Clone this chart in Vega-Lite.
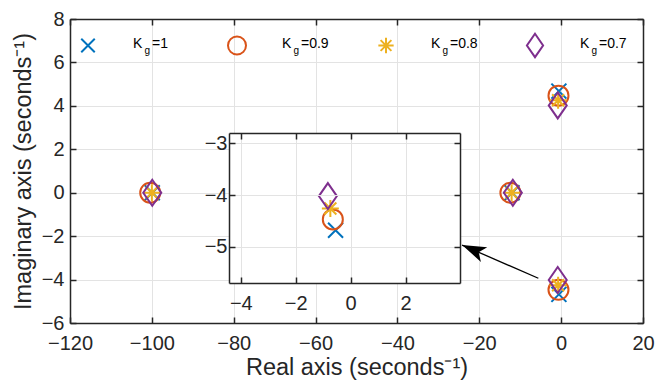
{
  "$schema": "https://vega.github.io/schema/vega-lite/v6.json",
  "width": 573,
  "height": 304,
  "autosize": {"type": "none"},
  "padding": {"left": 70, "top": 19, "right": 12, "bottom": 62},
  "background": "white",
  "config": {
    "view": {"stroke": null},
    "font": "Liberation Sans",
    "axis": {
      "labelFont": "Liberation Sans",
      "titleFont": "Liberation Sans",
      "labelFontSize": 20,
      "titleFontSize": 23.5,
      "titleFontWeight": "normal",
      "labelColor": "#262626",
      "titleColor": "#262626",
      "domainColor": "#262626",
      "domainWidth": 1.5,
      "tickColor": "#262626",
      "tickWidth": 1.5,
      "tickSize": -6,
      "gridColor": "#e3e3e3",
      "gridWidth": 1,
      "labelPadding": 12,
      "labelFlush": false,
      "labelOverlap": false
    },
    "axisX": {"labelPadding": 16}
  },
  "datasets": {
    "poles": [
      {"Kg": "1", "re": -99.9, "im": 0},
      {"Kg": "1", "re": -12.0, "im": 0},
      {"Kg": "1", "re": -0.55, "im": 4.68},
      {"Kg": "1", "re": -0.55, "im": -4.68},
      {"Kg": "0.9", "re": -100.4, "im": 0},
      {"Kg": "0.9", "re": -12.4, "im": 0},
      {"Kg": "0.9", "re": -0.65, "im": 4.47},
      {"Kg": "0.9", "re": -0.65, "im": -4.47},
      {"Kg": "0.8", "re": -100.0, "im": 0},
      {"Kg": "0.8", "re": -12.1, "im": 0},
      {"Kg": "0.8", "re": -0.74, "im": 4.26},
      {"Kg": "0.8", "re": -0.74, "im": -4.26},
      {"Kg": "0.7", "re": -99.9, "im": 0},
      {"Kg": "0.7", "re": -11.8, "im": 0},
      {"Kg": "0.7", "re": -0.83, "im": 4.02},
      {"Kg": "0.7", "re": -0.83, "im": -4.02}
    ],
    "arrow": [
      {"x0": -5.57, "y0": -3.94, "x1": -24.2, "y1": -2.41}
    ],
    "entries": [
      {"Kg": "1", "lab": "=1"},
      {"Kg": "0.9", "lab": "=0.9"},
      {"Kg": "0.8", "lab": "=0.8"},
      {"Kg": "0.7", "lab": "=0.7"}
    ]
  },
  "layer": [
    {
      "layer": [
        {
          "data": {"name": "poles"},
          "mark": {"type": "point", "filled": false, "size": 400, "strokeWidth": 2, "opacity": 1},
          "encoding": {
            "x": {
              "field": "re", "type": "quantitative",
              "scale": {"domain": [-120, 20], "nice": false, "zero": false},
              "axis": {
                "orient": "bottom", "values": [-120, -100, -80, -60, -40, -20, 0, 20],
                "grid": true, "zindex": 0,
                "title": "Real axis (seconds\u207b\u00b9)",
                "titleY": 51, "titleBaseline": "alphabetic"
              }
            },
            "y": {
              "field": "im", "type": "quantitative",
              "scale": {"domain": [-6, 8], "nice": false, "zero": false},
              "axis": {
                "orient": "left", "values": [-6, -4, -2, 0, 2, 4, 6, 8],
                "grid": true, "zindex": 0,
                "title": "Imaginary axis (seconds\u207b\u00b9)",
                "titleX": -40, "titleY": 152, "titleAngle": -90,
                "titleAlign": "center", "titleBaseline": "alphabetic"
              }
            },
            "color": {
              "field": "Kg", "type": "nominal", "legend": null,
              "scale": {"domain": ["1", "0.9", "0.8", "0.7"], "range": ["#0072BD", "#D95319", "#EDB120", "#7E2F8E"]}
            },
            "shape": {
              "field": "Kg", "type": "nominal", "legend": null,
              "scale": {
                "domain": ["1", "0.9", "0.8", "0.7"],
                "range": [
                  "M-0.75,-0.75L0.75,0.75M-0.75,0.75L0.75,-0.75",
                  "circle",
                  "M0,-0.85L0,0.85M-0.85,0L0.85,0M-0.6,-0.6L0.6,0.6M-0.6,0.6L0.6,-0.6",
                  "M0,-1.3L0.9,0L0,1.3L-0.9,0Z"
                ]
              }
            }
          }
        },
        {
          "data": {"name": "poles"},
          "mark": {"type": "point", "opacity": 0},
          "encoding": {
            "x": {
              "field": "re", "type": "quantitative",
              "scale": {"domain": [-120, 20], "nice": false, "zero": false},
              "axis": {"orient": "top", "values": [-120, -100, -80, -60, -40, -20, 0, 20], "labels": false, "grid": false, "title": null, "zindex": 0}
            },
            "y": {
              "field": "im", "type": "quantitative",
              "scale": {"domain": [-6, 8], "nice": false, "zero": false},
              "axis": {"orient": "right", "values": [-6, -4, -2, 0, 2, 4, 6, 8], "labels": false, "grid": false, "title": null, "zindex": 0}
            }
          }
        },
        {
          "data": {"name": "arrow"},
          "mark": {"type": "rule", "color": "#000000", "strokeWidth": 1.3},
          "encoding": {
            "x": {"field": "x0", "type": "quantitative", "scale": {"domain": [-120, 20], "nice": false, "zero": false}, "axis": null},
            "y": {"field": "y0", "type": "quantitative", "scale": {"domain": [-6, 8], "nice": false, "zero": false}, "axis": null},
            "x2": {"field": "x1"},
            "y2": {"field": "y1"}
          }
        },
        {
          "data": {"name": "arrow"},
          "mark": {"type": "point", "shape": "M0,0L1,-0.33L0.75,0L1,0.33Z", "filled": true, "color": "#000000", "opacity": 1, "size": 2304, "angle": 23.5, "strokeWidth": 0},
          "encoding": {
            "x": {"field": "x1", "type": "quantitative", "scale": {"domain": [-120, 20], "nice": false, "zero": false}, "axis": null},
            "y": {"field": "y1", "type": "quantitative", "scale": {"domain": [-6, 8], "nice": false, "zero": false}, "axis": null}
          }
        }
      ],
      "resolve": {"axis": {"x": "independent", "y": "independent"}}
    },
    {
      "layer": [
        {
          "data": {"values": [{"box": "inset"}]},
          "mark": {"type": "rect", "color": "white", "opacity": 1},
          "encoding": {
            "x": {"datum": -4.43, "type": "quantitative", "scale": {"domain": [-4.43, 3.98], "range": [159, 390], "nice": false, "zero": false},
              "axis": {"orient": "bottom", "offset": -40, "values": [-4, -2, 0, 2], "grid": false, "title": null, "zindex": 1}},
            "x2": {"datum": 3.98},
            "y": {"datum": -5.7, "type": "quantitative", "scale": {"domain": [-5.7, -2.8], "range": [264, 114], "nice": false, "zero": false},
              "axis": {"orient": "left", "offset": -159, "values": [-5, -4, -3], "grid": true, "title": null, "zindex": 1, "labelPadding": 8}},
            "y2": {"datum": -2.8}
          }
        },
        {
          "data": {"name": "poles"},
          "transform": [{"filter": "datum.im < -2 && datum.re > -5"}],
          "mark": {"type": "point", "filled": false, "size": 400, "strokeWidth": 2, "opacity": 1},
          "encoding": {
            "x": {"field": "re", "type": "quantitative", "scale": {"domain": [-4.43, 3.98], "range": [159, 390], "nice": false, "zero": false},
              "axis": {"orient": "top", "offset": -114, "values": [-4, -2, 0, 2], "labels": false, "grid": true, "title": null, "zindex": 1}},
            "y": {"field": "im", "type": "quantitative", "scale": {"domain": [-5.7, -2.8], "range": [264, 114], "nice": false, "zero": false},
              "axis": {"orient": "right", "offset": -183, "values": [-5, -4, -3], "labels": false, "grid": false, "title": null, "zindex": 1}},
            "color": {"field": "Kg", "type": "nominal", "scale": {"domain": ["1", "0.9", "0.8", "0.7"], "range": ["#0072BD", "#D95319", "#EDB120", "#7E2F8E"]}, "legend": null},
            "shape": {
              "field": "Kg", "type": "nominal", "legend": null,
              "scale": {
                "domain": ["1", "0.9", "0.8", "0.7"],
                "range": [
                  "M-0.75,-0.75L0.75,0.75M-0.75,0.75L0.75,-0.75",
                  "circle",
                  "M0,-0.85L0,0.85M-0.85,0L0.85,0M-0.6,-0.6L0.6,0.6M-0.6,0.6L0.6,-0.6",
                  "M0,-1.3L0.9,0L0,1.3L-0.9,0Z"
                ]
              }
            }
          }
        }
      ],
      "resolve": {"axis": {"x": "independent", "y": "independent"}}
    },
    {
      "data": {"name": "entries"},
      "encoding": {
        "x": {"field": "Kg", "type": "nominal", "sort": null, "scale": {"type": "point", "padding": 0, "domain": ["1", "0.9", "0.8", "0.7"], "range": [18, 465]}, "axis": null},
        "y": {"datum": 6.78, "type": "quantitative", "scale": {"domain": [-6, 8], "nice": false, "zero": false}, "axis": null}
      },
      "layer": [
        {
          "mark": {"type": "point", "filled": false, "size": 324, "strokeWidth": 2, "opacity": 1},
          "encoding": {
            "color": {"field": "Kg", "type": "nominal", "legend": null, "scale": {"domain": ["1", "0.9", "0.8", "0.7"], "range": ["#0072BD", "#D95319", "#EDB120", "#7E2F8E"]}},
            "shape": {
              "field": "Kg", "type": "nominal", "legend": null,
              "scale": {
                "domain": ["1", "0.9", "0.8", "0.7"],
                "range": [
                  "M-0.75,-0.75L0.75,0.75M-0.75,0.75L0.75,-0.75",
                  "circle",
                  "M0,-0.85L0,0.85M-0.85,0L0.85,0M-0.6,-0.6L0.6,0.6M-0.6,0.6L0.6,-0.6",
                  "M0,-1.3L0.9,0L0,1.3L-0.9,0Z"
                ]
              }
            }
          }
        },
        {
          "mark": {"type": "text", "text": "K", "align": "left", "baseline": "middle", "dx": 45, "dy": -1, "font": "Liberation Sans", "fontSize": 14, "color": "#000000"}
        },
        {
          "mark": {"type": "text", "text": "g", "align": "left", "baseline": "middle", "dx": 56.5, "dy": 6, "font": "Liberation Sans", "fontSize": 10, "color": "#000000"}
        },
        {
          "mark": {"type": "text", "align": "left", "baseline": "middle", "dx": 64, "dy": -1, "font": "Liberation Sans", "fontSize": 14, "color": "#000000"},
          "encoding": {"text": {"field": "lab"}}
        }
      ]
    }
  ],
  "resolve": {"scale": {"x": "independent", "y": "independent"}}
}
